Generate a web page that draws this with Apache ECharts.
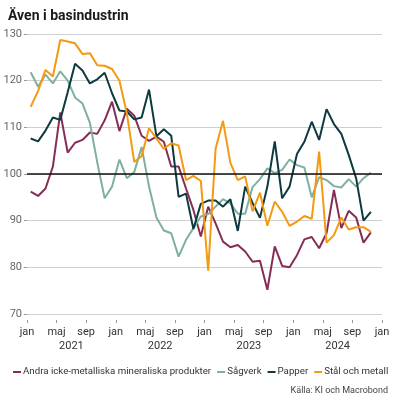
<!DOCTYPE html>
<html>
<head>
<meta charset="utf-8">
<script src="https://cdn.jsdelivr.net/npm/echarts@6/dist/echarts.min.js"></script>
<style>
  html, body { margin: 0; padding: 0; background: #fff; }
  #chart { width: 397px; height: 397px; }
</style>
</head>
<body>
<div id="chart"></div>
<script>
// månadsdata jan 2021 - nov 2024
const monthLabels = ['jan', 'maj', 'sep']
const years = ['2021', '2022', '2023', '2024']
const seriesNames = ['Andra icke-metalliska mineraliska produkter', 'Sågverk', 'Papper', 'Stål och metall']

const andra = [96.2, 95.3, 96.9, 101.6, 113.2, 104.6, 106.7, 107.3, 108.9, 108.6,
  111.5, 115.5, 109.2, 114, 112.5, 108.2, 107.1, 108, 106.9, 101.6,
  101.6, 96.9, 92.3, 86.6, 93, 89.4, 85.5, 84.3, 84.8, 83.4,
  81.2, 81.4, 75.2, 84.5, 80.3, 80, 82.6, 86, 86.5, 84.1,
  87.3, 96.6, 88.4, 92.1, 90.7, 85.3, 87.5]
const sagverk = [121.8, 118.7, 121.3, 119.4, 122, 120, 116.4, 115.1, 111, 102.5,
  94.8, 97.3, 103.1, 99.1, 100.4, 105.8, 97.3, 90.7, 87.9, 87.3,
  82.3, 85.9, 88.4, 90.9, 91.4, 93, 94.6, 93.7, 91.5, 91.5,
  97.2, 98.9, 101.2, 100.2, 100.9, 103.1, 101.9, 101.4, 95, 99.3,
  98.7, 97.4, 97.1, 98.9, 97.3, 99.1, 100.3]
const papper = [107.6, 107, 109.3, 112.1, 111.6, 117.5, 123.6, 122.2, 119.4, 120.3,
  121.7, 117.3, 113.6, 113.4, 111.7, 112.1, 118.1, 108.1, 109.6, 108.2,
  95.1, 95.8, 88.2, 93.6, 94.3, 94.3, 93, 94.6, 87.8, 97.3,
  93.8, 90.6, 97.3, 107, 94.8, 97.3, 104.3, 106.9, 111.2, 107.3,
  113.9, 110.7, 108.6, 104.1, 99.1, 90, 91.9]
const stal = [114.4, 117.8, 122.3, 120.9, 128.7, 128.4, 128, 125.7, 125.9, 123.3,
  123.2, 122.5, 120, 113, 102.6, 103.8, 109.8, 107.6, 105.4, 106.6,
  106.1, 98.7, 99.6, 98.5, 79.3, 105.4, 111.4, 102.4, 98.7, 99.5,
  92, 96, 88.9, 94.1, 91.9, 88.9, 89.8, 91, 90.4, 104.8,
  85.3, 86.9, 90.7, 88.1, 88.6, 88.6, 87.6]

const colors = ['#862d57', '#7fb09f', '#0c3a3f', '#f39a10']
const font = 'Roboto'

// punkt mitt i månaden
const toPoints = arr => arr.map((v, i) => [i + 0.5, v])

const chart = echarts.init(document.getElementById('chart'))

const series = [andra, sagverk, papper, stal].map((arr, k) => ({
  name: seriesNames[k],
  type: 'line',
  data: toPoints(arr),
  symbol: 'none',
  lineStyle: { width: 2, color: colors[k] },
  itemStyle: { color: colors[k] },
  markLine: k === 0 ? {
    silent: true,
    symbol: 'none',
    label: { show: false },
    lineStyle: { color: '#111', width: 1.5, type: 'solid' },
    data: [{ yAxis: 100 }]
  } : undefined
}))

chart.setOption({
  animation: false,
  textStyle: { fontFamily: font },
  title: [
    {
      text: 'Även i basindustrin',
      left: 3,
      top: 4,
      textStyle: { fontSize: 14, fontWeight: 'bold', color: '#1a1a1a', fontFamily: font }
    },
    {
      text: 'Källa: KI och Macrobond',
      right: 4,
      top: 381,
      textStyle: { fontSize: 9, fontWeight: 'normal', color: '#444', fontFamily: font }
    }
  ],
  legend: {
    left: 8,
    top: 362,
    icon: 'rect',
    itemWidth: 8,
    itemHeight: 2,
    itemGap: 6,
    textStyle: { fontSize: 9.7, color: '#333', padding: [0, 0, 0, -3] },
    data: seriesNames
  },
  grid: { left: 27, right: 15, top: 34, bottom: 83 },
  xAxis: [
    {
      type: 'value',
      position: 'bottom',
      min: 0,
      max: 48,
      interval: 4,
      offset: 6,
      axisLine: { show: false },
      axisTick: { show: true, length: 3, lineStyle: { color: '#999' } },
      splitLine: { show: false },
      axisLabel: {
        margin: 7,
        fontSize: 11,
        color: '#333',
        formatter: v => monthLabels[(v / 4) % 3]
      }
    },
    {
      type: 'value',
      position: 'bottom',
      min: 0,
      max: 48,
      offset: 6,
      axisLine: { show: false },
      axisTick: { show: false },
      splitLine: { show: false },
      axisLabel: {
        margin: 21,
        fontSize: 11,
        color: '#333',
        customValues: [6, 18, 30, 42],
        formatter: v => years[(v - 6) / 12]
      }
    }
  ],
  yAxis: {
    type: 'value',
    min: 70,
    max: 130,
    interval: 10,
    axisLine: { show: false },
    axisTick: { show: true, length: 3, lineStyle: { color: '#999' } },
    splitLine: { lineStyle: { color: '#cfcfcf', width: 1 } },
    axisLabel: { margin: 5, fontSize: 11, color: '#666' }
  },
  series: series
})
</script>
</body>
</html>
